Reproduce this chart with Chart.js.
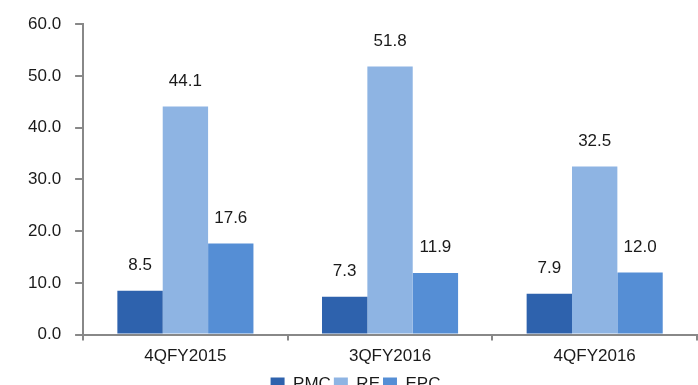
<!DOCTYPE html>
<html>
<head>
<meta charset="utf-8">
<script src="https://cdn.jsdelivr.net/npm/chart.js@4.4.0/dist/chart.umd.min.js"></script>
<style>
  html, body { margin: 0; padding: 0; background: #fff; overflow: hidden; }
  #wrap { width: 698px; height: 403px; position: relative; }
</style>
</head>
<body>
<div id="wrap"><canvas id="myChart"></canvas></div>
<script>
const categories = ['4QFY2015', '3QFY2016', '4QFY2016'];
const pmc = [8.5, 7.3, 7.9];
const re = [44.1, 51.8, 32.5];
const epc = [17.6, 11.9, 12.0];
const yTicks = [0, 10, 20, 30, 40, 50, 60];

const FONT = "'Liberation Sans', 'DejaVu Sans', sans-serif";

// labels above each bar
const barLabels = {
    id: 'barLabels',
    afterDatasetsDraw(chart) {
        const ctx = chart.ctx;
        ctx.save();
        ctx.font = '17px ' + FONT;
        ctx.fillStyle = '#1a1a1a';
        ctx.textAlign = 'center';
        ctx.textBaseline = 'bottom';
        chart.data.datasets.forEach((ds, i) => {
            chart.getDatasetMeta(i).data.forEach((bar, j) => {
                ctx.fillText(ds.data[j].toFixed(1), bar.x, bar.y - 17);
            });
        });
        ctx.restore();
    }
};

const ctx = document.getElementById('myChart').getContext('2d');

const data = {
    labels: categories,
    datasets: [
        { label: 'PMC', data: pmc, backgroundColor: '#2E62AD' },
        { label: 'RE', data: re, backgroundColor: '#8EB4E3' },
        { label: 'EPC', data: epc, backgroundColor: '#558ED5' }
    ]
};

const config = {
    type: 'bar',
    data: data,
    options: {
        responsive: true,
        maintainAspectRatio: false,
        animation: false,
        datasets: { bar: { categoryPercentage: 0.665, barPercentage: 1 } },
        layout: { padding: { left: 14, right: 1, top: 14, bottom: 0 } },
        plugins: {
            legend: {
                position: 'bottom',
                labels: {
                    boxWidth: 14, boxHeight: 14, padding: 3,
                    color: '#1a1a1a',
                    font: { family: FONT, size: 17 }
                }
            },
            tooltip: { enabled: false }
        },
        scales: {
            x: {
                grid: { drawOnChartArea: false, drawTicks: true, tickLength: 6, color: '#888', lineWidth: 2 },
                border: { color: '#888', width: 2 },
                ticks: { color: '#1a1a1a', font: { family: FONT, size: 17 }, padding: 6 }
            },
            y: {
                min: 0, max: 60,
                afterBuildTicks: axis => { axis.ticks = yTicks.map(v => ({ value: v })); },
                grid: { drawOnChartArea: false, drawTicks: true, tickLength: 8, color: '#888', lineWidth: 2 },
                border: { color: '#888', width: 2 },
                ticks: {
                    color: '#1a1a1a', font: { family: FONT, size: 17 }, padding: 14,
                    callback: v => v.toFixed(1)
                }
            }
        }
    },
    plugins: [barLabels]
};

new Chart(ctx, config);
</script>
</body>
</html>
